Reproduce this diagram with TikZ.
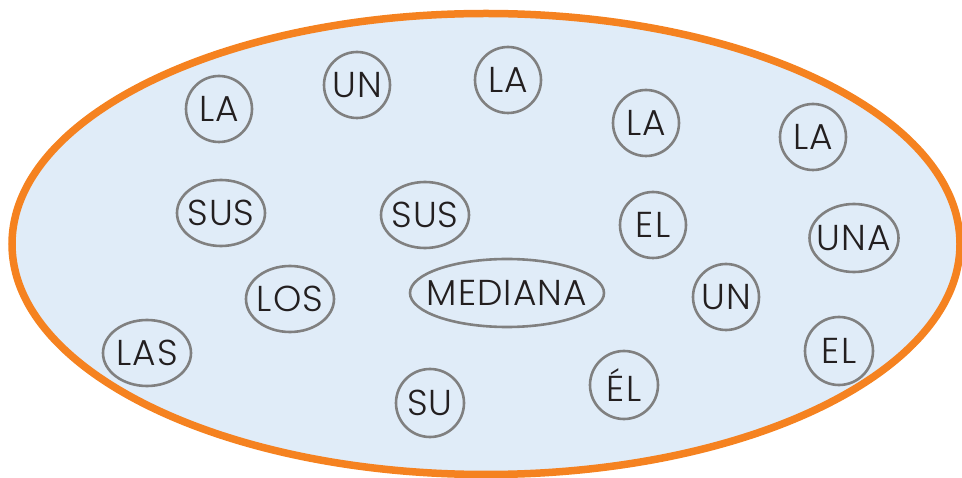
\documentclass[tikz,border=0pt]{standalone}
\usepackage{fontspec}
\setmainfont{Poppins}[UprightFont=* Light, LetterSpace=3]
\usetikzlibrary{shapes.geometric}
\definecolor{setorange}{HTML}{F58220}
\definecolor{setfill}{HTML}{E0ECF8}
\definecolor{ringgray}{HTML}{808080}
\definecolor{wordink}{HTML}{231F20}
\newcommand{\wordtext}[1]{\makebox[0pt]{#1}}
\tikzset{
  word/.style={draw=ringgray, line width=2.6pt, ellipse, inner sep=0pt,
    text=wordink, font=\fontsize{36}{36}\selectfont, minimum width=66pt, minimum height=66pt},
  wideword/.style={word, minimum width=88pt},
}
\begin{document}
\begin{tikzpicture}[x=1pt,y=-1pt]
\useasboundingbox (0,0) rectangle (962,478);
\node[ellipse, draw=setorange, fill=setfill, line width=7.5pt, minimum width=948pt, minimum height=461pt, inner sep=0pt] (set) at (486,244) {};
\node[word] (la1) at (219,109) {\wordtext{LA}};
\node[word] (un1) at (357,85) {\wordtext{UN}};
\node[word] (la2) at (508,80) {\wordtext{LA}};
\node[word] (la3) at (646,123) {\wordtext{LA}};
\node[word] (la4) at (813,137) {\wordtext{LA}};
\node[wideword] (sus1) at (221,213) {\wordtext{SUS}};
\node[wideword] (sus2) at (425,215) {\wordtext{SUS}};
\node[word] (el1) at (653,225) {\wordtext{EL}};
\node[wideword, minimum width=89pt, minimum height=68pt] (una) at (854,238) {\wordtext{UNA}};
\node[wideword] (los) at (290,299) {\wordtext{LOS}};
\node[word, minimum width=194pt, minimum height=68pt] (mediana) at (507,293) {\wordtext{MEDIANA}};
\node[word] (un2) at (726,297) {\wordtext{UN}};
\node[wideword] (las) at (147,353) {\wordtext{LAS}};
\node[word, minimum width=68pt, minimum height=68pt] (el2) at (839,351) {\wordtext{EL}};
\node[word, minimum width=68pt, minimum height=68pt] (su) at (430,403) {\wordtext{SU}};
\node[word, minimum width=68pt, minimum height=68pt] (el3) at (624,385) {\wordtext{ÉL}};
\end{tikzpicture}
\end{document}
